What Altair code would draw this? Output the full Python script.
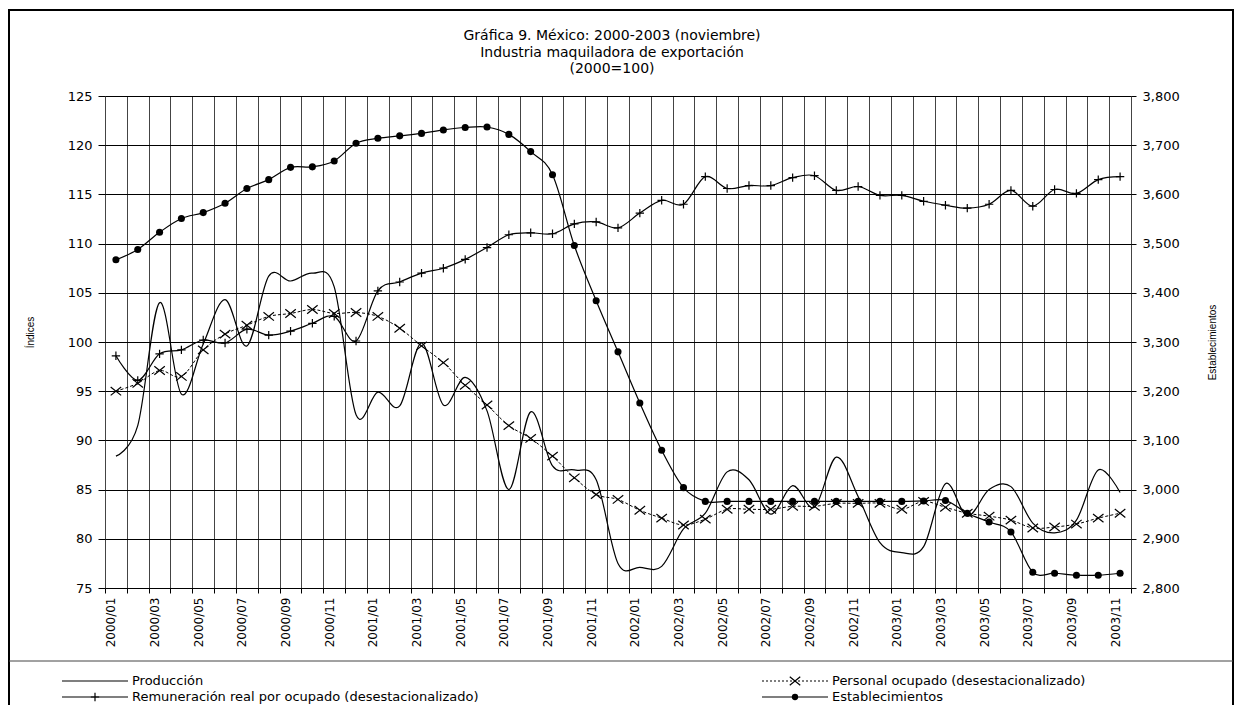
import altair as alt
import pandas as pd

# ---------------- data ----------------
meses = [f"{a}/{m:02d}" for a in (2000, 2001, 2002, 2003) for m in range(1, 13)][:47]

produccion = [88.4, 91.5, 104.0, 94.7, 99.8, 104.3, 99.6, 106.7, 106.2, 107.0,
              105.6, 92.6, 94.9, 93.5, 99.9, 93.6, 96.4, 93.0, 85.0, 92.9,
              87.4, 87.0, 86.0, 77.5, 77.1, 77.2, 81.0, 82.6, 86.8, 86.0,
              82.5, 85.4, 83.2, 88.3, 84.3, 79.6, 78.6, 79.2, 85.6, 82.3,
              85.0, 85.3, 81.6, 80.6, 81.9, 87.0, 84.7]

personal = [95.0, 95.8, 97.1, 96.5, 99.2, 100.8, 101.7, 102.6, 102.9, 103.3,
            102.9, 103.0, 102.6, 101.4, 99.6, 97.9, 95.6, 93.6, 91.5, 90.2,
            88.4, 86.2, 84.5, 84.0, 82.9, 82.1, 81.4, 82.0, 83.0, 83.0,
            83.0, 83.3, 83.3, 83.6, 83.6, 83.6, 83.0, 83.8, 83.2, 82.6,
            82.3, 81.9, 81.1, 81.2, 81.5, 82.1, 82.6]

remuneracion = [98.6, 96.1, 98.8, 99.2, 100.2, 99.9, 101.3, 100.7, 101.1, 101.9,
                102.6, 100.1, 105.2, 106.1, 107.0, 107.5, 108.4, 109.6, 110.9, 111.1,
                111.0, 112.0, 112.2, 111.6, 113.1, 114.4, 114.0, 116.8, 115.6, 115.9,
                115.9, 116.7, 116.9, 115.4, 115.8, 114.9, 114.9, 114.3, 113.9, 113.6,
                114.0, 115.4, 113.8, 115.5, 115.1, 116.5, 116.8]

establecimientos = [3467, 3488, 3523, 3551, 3563, 3582, 3612, 3630, 3655, 3656,
                    3668, 3704, 3714, 3719, 3724, 3731, 3736, 3737, 3722, 3687,
                    3640, 3496, 3384, 3280, 3176, 3080, 3004, 2976, 2976, 2976,
                    2976, 2976, 2976, 2976, 2976, 2976, 2976, 2977, 2978, 2952,
                    2934, 2914, 2832, 2830, 2826, 2826, 2830]

nombres = ["Producción",
           "Personal ocupado (desestacionalizado)",
           "Remuneración real por ocupado (desestacionalizado)",
           "Establecimientos"]

titulo = ["Gráfica 9. México: 2000-2003 (noviembre)",
          "Industria maquiladora de exportación",
          "(2000=100)"]

ticks_izq = [75, 80, 85, 90, 95, 100, 105, 110, 115, 120, 125]
ticks_der = [2800, 2900, 3000, 3100, 3200, 3300, 3400, 3500, 3600, 3700, 3800]

df = pd.DataFrame({"mes": meses, "prod": produccion, "pers": personal,
                   "rem": remuneracion, "est": establecimientos})

# ---------------- style ----------------
W, H = 1026, 492
FONT = "DejaVu Sans"
XPATH = "M-1,-0.8L1,0.8M-1,0.8L1,-0.8"
PPATH = "M-1,0L1,0M0,-1L0,1"

x_axis = alt.Axis(title=None, labelAngle=270, labelAlign="right", labelBaseline="middle",
                  labelFont=FONT, labelFontSize=12, labelColor="black", labelPadding=4,
                  labelOffset=-5,
                  tickBand="extent", tickSize=5, tickColor="black",
                  grid=True, gridColor="#444444", gridWidth=1, domain=False,
                  labelOverlap=False,
                  labelExpr="toNumber(substring(datum.value, 5, 7)) % 2 == 1 ? datum.label : ''")
x_enc = alt.X("mes:N", scale=alt.Scale(type="band", domain=meses, paddingInner=0, paddingOuter=0),
              axis=x_axis, bandPosition=0.5)

yl_scale = alt.Scale(domain=[75, 125], nice=False, zero=False)
yl_axis = alt.Axis(title="Índices", values=ticks_izq, titleFont="Liberation Sans", titleFontSize=10,
                   titleFontWeight="normal", titleAngle=270, titleX=-75, titleY=H / 2 - 10,
                   titleAlign="center", titleBaseline="middle", titleColor="black",
                   labelFont=FONT, labelFontSize=13, labelColor="black", labelPadding=6,
                   tickSize=7, tickColor="black", grid=True, gridColor="black", gridWidth=1,
                   domain=False)
yr_scale = alt.Scale(domain=[2800, 3800], nice=False, zero=False)
yr_axis = alt.Axis(title="Establecimientos", orient="right", values=ticks_der, format=",.0f",
                   titleFont="Liberation Sans", titleFontSize=10, titleFontWeight="normal",
                   titleAngle=270, titleX=81, titleY=H / 2, titleAlign="center",
                   titleBaseline="middle", titleColor="black",
                   labelFont=FONT, labelFontSize=13, labelColor="black", labelPadding=6,
                   tickSize=5, tickColor="black", grid=False, domain=False)

base = alt.Chart(df)


def yl(f):
    return alt.Y(f"{f}:Q", scale=yl_scale, axis=yl_axis)


prod_line = base.mark_line(color="black", strokeWidth=1.2, interpolate="cardinal").encode(x=x_enc, y=yl("prod"))
pers_line = base.mark_line(color="black", strokeWidth=1, strokeDash=[3, 2], interpolate="cardinal").encode(x=x_enc, y=yl("pers"))
pers_pts = base.mark_point(shape=XPATH, size=110, filled=False, color="black", strokeWidth=1.2, opacity=1).encode(x=x_enc, y=yl("pers"))
rem_line = base.mark_line(color="black", strokeWidth=1.2, interpolate="cardinal").encode(x=x_enc, y=yl("rem"))
rem_pts = base.mark_point(shape=PPATH, size=70, filled=False, color="black", strokeWidth=1.2, opacity=1).encode(x=x_enc, y=yl("rem"))

yr = alt.Y("est:Q", scale=yr_scale, axis=yr_axis)
est_line = base.mark_line(color="black", strokeWidth=1.2, interpolate="cardinal").encode(x=x_enc, y=yr)
est_pts = base.mark_point(shape="circle", size=50, filled=True, color="black", opacity=1).encode(x=x_enc, y=yr)

# ---------------- decoration: frame, title, legend ----------------
one = pd.DataFrame({"d": [0]})
deco = []
deco.append(alt.Chart(one).mark_rect(fillOpacity=0, stroke="black", strokeWidth=2).encode(
    x=alt.value(-96), x2=alt.value(1128), y=alt.value(-86), y2=alt.value(640)))
deco.append(alt.Chart(one).mark_rule(color="#444444", strokeWidth=1).encode(
    x=alt.value(-96), x2=alt.value(1128), y=alt.value(565)))

for i, ty in enumerate([-60, -43.5, -27]):
    tdf = pd.DataFrame({"t": [titulo[i]]})
    deco.append(alt.Chart(tdf).mark_text(align="center", baseline="middle", font=FONT, fontSize=14,
                                         color="black").encode(
        x=alt.value(507), y=alt.value(ty), text="t:N"))

rows = [585, 601]
cols = [(-43, 23), (657, 723)]
entries = [(0, 0, 0, None, None), (1, 1, 0, [2, 2], "X"), (2, 0, 1, None, "P"), (3, 1, 1, None, "O")]
for idx, c, r, dash, mk in entries:
    x0, x1 = cols[c]
    y0 = rows[r]
    rk = dict(color="black", strokeWidth=1.2)
    if dash:
        rk["strokeDash"] = dash
    deco.append(alt.Chart(one).mark_rule(**rk).encode(x=alt.value(x0), x2=alt.value(x1), y=alt.value(y0)))
    xm = (x0 + x1) / 2
    if mk == "X":
        deco.append(alt.Chart(one).mark_point(shape=XPATH, size=110, filled=False, color="black", strokeWidth=1.2, opacity=1).encode(x=alt.value(xm), y=alt.value(y0)))
    elif mk == "P":
        deco.append(alt.Chart(one).mark_point(shape=PPATH, size=70, filled=False, color="black", strokeWidth=1.2, opacity=1).encode(x=alt.value(xm), y=alt.value(y0)))
    elif mk == "O":
        deco.append(alt.Chart(one).mark_point(shape="circle", size=40, filled=True, color="black", opacity=1).encode(x=alt.value(xm), y=alt.value(y0)))
    tdf = pd.DataFrame({"n": [nombres[idx]]})
    deco.append(alt.Chart(tdf).mark_text(align="left", baseline="middle", font=FONT, fontSize=13, color="black").encode(
        x=alt.value(x1 + 4), y=alt.value(y0), text="n:N"))

left = alt.layer(prod_line, pers_line, pers_pts, rem_line, rem_pts, *deco)
right = alt.layer(est_line, est_pts)

chart = alt.layer(left, right).resolve_scale(y="independent").properties(
    width=W, height=H,
    autosize=alt.AutoSizeParams(type="none"),
    padding={"left": 97, "top": 88, "right": 103, "bottom": 117},
).configure_view(stroke="black", strokeWidth=1).configure(background="white")

chart.save("out.html", embed_options={"renderer": "svg", "actions": False})
